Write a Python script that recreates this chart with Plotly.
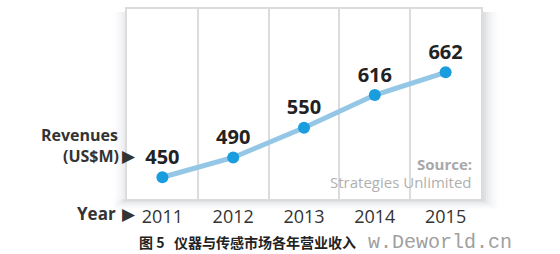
import plotly.graph_objects as go

years = [2011, 2012, 2013, 2014, 2015]
revenues = [450, 490, 550, 616, 662]
year_labels = ["2011", "2012", "2013", "2014", "2015"]
caption = "图 5   仪器与传感市场各年营业收入"

W, H = 560, 254
L, R, T, B = 127, 481, 7, 199
pw, ph = R - L, B - T

def px(x):
    return (x - L) / pw

def py(y):
    return (B - y) / ph

fig = go.Figure()
fig.add_trace(go.Scatter(
    x=years, y=revenues,
    mode="lines+markers+text",
    text=[str(v) for v in revenues],
    textposition="top center",
    textfont=dict(family="Open Sans", size=20, color="#222222", weight="bold"),
    line=dict(color="#93c7e5", width=5),
    marker=dict(color="#1a9ddf", size=12, line=dict(width=0)),
    cliponaxis=False,
    hoverinfo="skip",
))

shapes = []
# soft drop shadow strips outside the frame (mostly right and bottom)
def strip(x0, x1, y0, y1, op):
    shapes.append(dict(type="rect", xref="paper", yref="paper",
                       x0=px(x0), x1=px(x1), y0=py(y1), y1=py(y0),
                       fillcolor=f"rgba(110,120,140,{op})", line=dict(width=0), layer="below"))

for i, op in enumerate([0.07, 0.06, 0.05, 0.04, 0.03, 0.02, 0.015]):
    d = 2.5 * (i + 1)
    strip(R, R + d, T + 3, B + d * 0.6, op)          # right
    strip(L - d * 0.8, R, B, B + d * 0.6, op)        # bottom
    strip(L - d * 0.8, L, T + 3, B, op * 0.6)        # left

annotations = [
    dict(text="<b>Revenues</b>", x=px(120), y=py(134), xanchor="right", yanchor="middle",
         font=dict(family="Open Sans", size=16, color="#333333")),
    dict(text="<b>(US$M)</b>", x=px(121), y=py(156), xanchor="right", yanchor="middle",
         font=dict(family="Open Sans", size=16, color="#333333")),
    dict(text="▶", x=px(138), y=py(156), xanchor="right", yanchor="middle",
         font=dict(family="DejaVu Sans", size=17, color="#333333")),
    dict(text="<b>Year</b>", x=px(118), y=py(214), xanchor="right", yanchor="middle",
         font=dict(family="Open Sans", size=17, color="#333333")),
    dict(text="▶", x=px(138), y=py(214), xanchor="right", yanchor="middle",
         font=dict(family="DejaVu Sans", size=17, color="#333333")),
    dict(text="<b>Source:</b>", x=px(474), y=py(164), xanchor="right", yanchor="middle",
         font=dict(family="Open Sans", size=15, color="#a8a8a8")),
    dict(text="Strategies Unlimited", x=px(474), y=py(182), xanchor="right", yanchor="middle",
         font=dict(family="Open Sans", size=15, color="#b0b0b0")),
    dict(text=caption, x=px(137), y=py(242), xanchor="left", yanchor="middle",
         font=dict(family="Noto Sans CJK SC", size=14, color="#222222", weight="bold")),
    dict(text="w.Deworld.cn", x=px(366), y=py(243), xanchor="left", yanchor="middle",
         font=dict(family="Liberation Mono", size=20, color="#a0a0a0")),
]
for a in annotations:
    a.update(xref="paper", yref="paper", showarrow=False)

fig.update_layout(
    width=W, height=H,
    margin=dict(l=L, r=W - R, t=T, b=H - B, pad=0),
    paper_bgcolor="white", plot_bgcolor="white",
    showlegend=False,
    shapes=shapes,
    annotations=annotations,
    xaxis=dict(
        range=[years[0] - 0.5, years[-1] + 0.5],
        tickvals=years, ticktext=year_labels,
        tickfont=dict(family="Open Sans", size=18, color="#333333"),
        showgrid=False, zeroline=False,
        showline=True, mirror=True, linecolor="#dcdcdc", linewidth=2,
        ticks="", ticklabelstandoff=0,
        minor=dict(tickvals=[y + 0.5 for y in years[:-1]], showgrid=True,
                   gridcolor="#dcdcdc", gridwidth=2, ticks=""),
        fixedrange=True,
    ),
    yaxis=dict(
        range=[406, 790],
        showticklabels=False, showgrid=False, zeroline=False,
        showline=True, mirror=True, linecolor="#dcdcdc", linewidth=2,
        ticks="", fixedrange=True,
    ),
)

fig.write_html("out.html")
